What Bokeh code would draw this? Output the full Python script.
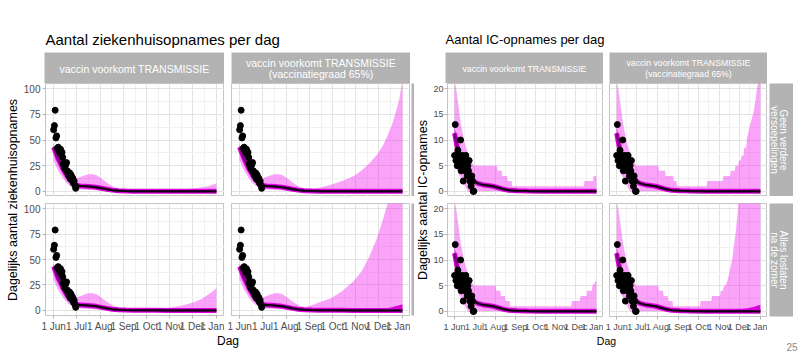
from math import pi
import pandas as pd
from bokeh.plotting import figure
from bokeh.models import Range1d, FixedTicker, Label, Spacer
from bokeh.layouts import row, column
from bokeh.embed import file_html
from bokeh.resources import INLINE

FONT = "Liberation Sans"
PINK = "#ee00ee"
MAGENTA = "#dd00dd"
PURPLE = "#800080"
STRIP_GREY = "#b3b3b3"

# ---------------- texts / ticks ----------------
START = "2021-06-01"
MONTH_TICKS = ["2021-06-01", "2021-07-01", "2021-08-01", "2021-09-01",
               "2021-10-01", "2021-11-01", "2021-12-01", "2022-01-01"]
MONTH_LABELS = ["1 Jun", "1 Jul", "1 Aug", "1 Sep", "1 Oct", "1 Nov", "1 Dec", "1 Jan"]
TITLES = ["Aantal ziekenhuisopnames per dag", "Aantal IC-opnames per dag"]
YLABELS = ["Dagelijks aantal ziekenhuisopnames", "Dagelijks aantal IC-opnames"]
XLABEL = "Dag"
COL_LABELS = [["vaccin voorkomt TRANSMISSIE"],
              ["vaccin voorkomt TRANSMISSIE", "(vaccinatiegraad 65%)"]]
ROW_LABELS = [["Geen verdere", "versoepelingen"], ["Alles loslaten", "na de zomer"]]
PAGE_NO = "25"
H_YTICKS = [0, 25, 50, 75, 100]
IC_YTICKS = [0, 5, 10, 15, 20]

# ---------------- observed data (daily, from 1 June) ----------------
HOSP_OBS = [60, 64, 79, 52, 54, 42, 43, 40, 38, 41, 36, 38, 33, 28, 25,
            22, 26, 28, 20, 17, 15, 18, 12, 16, 11, 13, 8, 10, 6, 3]
IC_OBS = [7, 13, 6, 7, 5, 8, 6, 7, 5, 10, 4, 6, 7, 2, 6,
          5, 4, 7, 6, 3, 5, 4, 6, 2, 3, 1, 3, 2, 0, 0]

# ---------------- hospital model (day offsets from 1 June) ----------------
H_DAY = [0, 3, 6, 9, 12, 15, 18, 21, 24, 27, 31, 35, 42, 49, 56, 63, 70, 77, 85, 95,
         105, 120, 135, 150, 160, 170, 180, 188, 195, 200, 205, 210, 214]
H_MED = [43, 37, 31.5, 27, 22, 18, 14.5, 11.5, 9, 7.5, 5.8, 5.2, 5, 4.6, 4, 3, 2, 1.2, 0.7, 0.4,
         0.2, 0.1, 0.05, 0, 0, 0, 0, 0, 0, 0, 0, 0, 0]
H_IN_LO = [39, 33, 27.5, 23, 18.5, 15, 12, 9.5, 7.3, 6, 4.6, 4.1, 3.9, 3.5, 3, 2.2, 1.4, 0.8, 0.4, 0.2,
           0.1, 0, 0, 0, 0, 0, 0, 0, 0, 0, 0, 0, 0]
H_IN_HI = [45, 41, 35.5, 31, 25.5, 21, 17, 13.5, 10.8, 9, 7, 6.3, 6.1, 5.7, 5, 3.8, 2.6, 1.7, 1, 0.6,
           0.4, 0.3, 0.2, 0.2, 0.2, 0.2, 0.2, 0.2, 0.2, 0.2, 0.2, 0.2, 0.2]
H_IN_HI_LATE = [45, 41, 35.5, 31, 25.5, 21, 17, 13.5, 10.8, 9, 7, 6.3, 6.1, 5.7, 5, 3.8, 2.6, 1.7, 1, 0.6,
                0.4, 0.3, 0.2, 0.3, 0.4, 0.6, 1, 1.6, 2.4, 3.2, 4.1, 5, 6]
H_OUT_LO = [30, 25, 20, 16.5, 13, 10, 7.5, 5.5, 4, 3, 2.2, 1.8, 1.6, 1.4, 1.1, 0.7, 0.4, 0.2, 0, 0,
            0, 0, 0, 0, 0, 0, 0, 0, 0, 0, 0, 0, 0]
H_OUT_HI_EARLY = [46, 41, 37, 33, 29.5, 26, 22.5, 19, 16.5, 14.5, 13, 14, 16, 17, 16, 12.5, 8.5, 5]
H_OUT_HI_GEEN = [2.8, 1.8, 1.4, 1.2, 1.2, 1.5, 1.8, 2.1, 2.6, 3.2, 3.9, 4.6, 5.5, 6.6, 8]
H_OUT_HI_ALLES = [2.8, 1.8, 1.5, 1.4, 1.7, 2.6, 3.6, 5, 7, 9, 11.5, 14, 16.5, 19, 22]
H_OUT_HI_GEEN65 = [3, 2.5, 3.5, 6.5, 10, 15, 20, 27, 35, 44, 55, 64, 76, 90, 108]
H_OUT_HI_ALLES65 = [3.2, 5, 8, 12, 19, 29, 38, 52, 70, 88, 106, 125, 145, 165, 185]

# ---------------- IC model ----------------
IC_DAY = [0, 3, 6, 9, 12, 15, 18, 22, 26, 30, 35, 42, 50, 58, 66, 74, 82, 95, 110, 130,
          150, 170, 185, 195, 205, 214]
IC_MED = [11.3, 9.2, 7.6, 6.4, 5.4, 4.5, 3.7, 2.9, 2.3, 1.9, 1.55, 1.3, 1.15, 1.0, 0.7, 0.4, 0.2, 0.1, 0.05, 0,
          0, 0, 0, 0, 0, 0]
IC_IN_LO = [9.9, 8.0, 6.6, 5.5, 4.6, 3.8, 3.1, 2.4, 1.9, 1.55, 1.25, 1.05, 0.9, 0.8, 0.5, 0.25, 0.1, 0.03, 0, 0,
            0, 0, 0, 0, 0, 0]
IC_IN_HI = [12.5, 10.4, 8.7, 7.3, 6.2, 5.2, 4.3, 3.4, 2.7, 2.25, 1.85, 1.55, 1.4, 1.2, 0.9, 0.6, 0.35, 0.22, 0.15, 0.12,
            0.12, 0.12, 0.12, 0.12, 0.12, 0.12]
IC_IN_HI_LATE = [12.5, 10.4, 8.7, 7.3, 6.2, 5.2, 4.3, 3.4, 2.7, 2.25, 1.85, 1.55, 1.4, 1.2, 0.9, 0.6, 0.35, 0.22, 0.15, 0.12,
                 0.12, 0.2, 0.4, 0.6, 0.9, 1.3]
IC_OUT_LO_DAY = [0, 4, 8, 12, 16, 20, 214]
IC_OUT_LO = [5, 4, 3, 2, 1, 0, 0]
IC_OUT_HI_EARLY_DAY = [0, 3, 6, 9, 12, 15, 18, 21, 24, 27, 30]
IC_OUT_HI_EARLY = [21.5, 19.5, 16.5, 13.5, 11.5, 9.5, 8.3, 7.2, 6.2, 5.4, 5]
IC_GEEN_DAY = [64, 65, 71, 72, 79, 80, 86, 87, 195, 196, 209, 210, 214]
IC_GEEN = [5, 4, 4, 3, 3, 2, 2, 1, 1, 2, 2, 3, 3]
IC_ALLES_DAY = [62, 63, 69, 70, 76, 77, 83, 84, 176, 177, 189, 190, 199, 200, 207, 208, 214]
IC_ALLES = [5, 4, 4, 3, 3, 2, 2, 1, 1, 2, 2, 3, 3, 4, 4, 5, 6]
IC_GEEN65_DAY = [62, 63, 72, 73, 84, 85, 89, 90, 134, 135, 158, 159, 169, 170, 176, 177, 181, 182, 185, 186,
                 189, 190, 193, 194, 197, 200, 204, 207, 209, 214]
IC_GEEN65 = [5, 4, 4, 3, 3, 2, 2, 1, 1, 2, 2, 3, 3, 4, 4, 5, 5, 6, 6, 7,
             7, 8.5, 8.5, 10.3, 12, 13.5, 15.5, 18, 20, 23]
IC_ALLES65_DAY = [62, 63, 69, 70, 76, 77, 83, 84, 124, 125, 141, 142, 154, 155, 158, 160, 162, 165, 167, 170,
                  172, 175, 177, 180, 182, 214]
IC_ALLES65 = [5, 4, 4, 3, 3, 2, 2, 1, 1, 2, 2, 3, 3, 4, 4, 5, 5, 6, 7, 9,
              10, 13, 15, 19, 22, 25]

# ---------------- derived scales ----------------
def day_of(s):
    return (pd.Timestamp(s) - pd.Timestamp(START)).days

MAJOR_X = [day_of(s) for s in MONTH_TICKS]
MINOR_X = [(a + b) / 2 for a, b in zip(MAJOR_X[:-1], MAJOR_X[1:])]
SPAN = MAJOR_X[-1] - MAJOR_X[0]
X0, X1 = MAJOR_X[0] - 0.05 * SPAN, MAJOR_X[-1] + 0.05 * SPAN
OBS_DAY = list(range(len(HOSP_OBS)))


def mids(t):
    return [(a + b) / 2 for a, b in zip(t[:-1], t[1:])]


def blank(w, h, xr, yr, bg="white", mbl=0, mbt=0, mbb=0):
    p = figure(width=w, height=h, x_range=Range1d(*xr), y_range=Range1d(*yr),
               x_axis_location=None, y_axis_location=None, toolbar_location=None,
               output_backend="svg", title=None,
               min_border_left=mbl, min_border_right=0, min_border_top=mbt, min_border_bottom=mbb,
               background_fill_color=bg, border_fill_color="white")
    p.outline_line_color = None
    p.grid.visible = False
    return p


def lab(p, x, y, text, size, color="black", align="center", baseline="middle", angle=0.0):
    p.add_layout(Label(x=x, y=y, text=text, text_font=FONT, text_font_size=size,
                       text_color=color, text_align=align, text_baseline=baseline, angle=angle))


def make_panel(group, r, c, frame_w, mbl):
    bottom = r == 1
    left = c == 0
    mbt = 7 if bottom else 0
    mbb = 18 if bottom else 0
    yr = (-5, 105) if group == "h" else (-1, 21)
    yt = H_YTICKS if group == "h" else IC_YTICKS
    tick_font = "10px" if group == "h" else "9px"
    p = figure(width=mbl + frame_w, height=mbt + 113 + mbb,
               x_range=Range1d(X0, X1), y_range=Range1d(*yr),
               x_axis_location="below" if bottom else None,
               y_axis_location="left" if left else None,
               toolbar_location=None, output_backend="svg", title=None,
               min_border_left=mbl, min_border_right=0, min_border_top=mbt, min_border_bottom=mbb,
               background_fill_color="white", border_fill_color="white")
    p.outline_line_color = "#c4c4c4"
    p.outline_line_width = 1
    p.xgrid.ticker = FixedTicker(ticks=MAJOR_X, minor_ticks=MINOR_X)
    p.ygrid.ticker = FixedTicker(ticks=yt, minor_ticks=mids(yt))
    p.grid.grid_line_color = "#e3e3e3"
    p.grid.grid_line_width = 1
    p.grid.minor_grid_line_color = "#f1f1f1"
    p.grid.minor_grid_line_width = 1
    for ax in p.axis:
        ax.axis_line_color = None
        ax.major_tick_line_color = "#b3b3b3"
        ax.major_tick_out = 3
        ax.major_tick_in = 0
        ax.minor_tick_line_color = None
        ax.major_label_text_font = FONT
        ax.major_label_text_font_size = tick_font
        ax.major_label_text_color = "#4d4d4d"
        ax.major_label_standoff = 2
    if bottom:
        ax = p.xaxis[0]
        ax.ticker = FixedTicker(ticks=MAJOR_X)
        ax.major_label_overrides = {d: t for d, t in zip(MAJOR_X, MONTH_LABELS)}
    if left:
        ax = p.yaxis[0]
        ax.ticker = FixedTicker(ticks=yt)
        ax.major_label_standoff = 2 if group == "h" else 1

    late = (r == 1 and c == 1)
    if group == "h":
        tail = {(0, 0): H_OUT_HI_GEEN, (1, 0): H_OUT_HI_ALLES,
                (0, 1): H_OUT_HI_GEEN65, (1, 1): H_OUT_HI_ALLES65}[(r, c)]
        p.varea(x=H_DAY, y1=H_OUT_LO, y2=H_OUT_HI_EARLY + tail, fill_color=PINK, fill_alpha=0.36)
        p.varea(x=H_DAY, y1=H_IN_LO, y2=H_IN_HI_LATE if late else H_IN_HI, fill_color=MAGENTA)
        days, med, obs = H_DAY, H_MED, HOSP_OBS
    else:
        tail_d, tail_v = {(0, 0): (IC_GEEN_DAY, IC_GEEN), (1, 0): (IC_ALLES_DAY, IC_ALLES),
                          (0, 1): (IC_GEEN65_DAY, IC_GEEN65), (1, 1): (IC_ALLES65_DAY, IC_ALLES65)}[(r, c)]
        xs = IC_OUT_HI_EARLY_DAY + tail_d + IC_OUT_LO_DAY[::-1]
        ys = IC_OUT_HI_EARLY + tail_v + IC_OUT_LO[::-1]
        p.patch(xs, ys, fill_color=PINK, fill_alpha=0.36, line_color=None)
        p.varea(x=IC_DAY, y1=IC_IN_LO, y2=IC_IN_HI_LATE if late else IC_IN_HI, fill_color=MAGENTA)
        days, med, obs = IC_DAY, IC_MED, IC_OBS
    p.line(days, med, line_width=5, color=MAGENTA)
    p.line(days, med, line_width=2.6, color=PURPLE)
    p.line(days[3:], med[3:], line_width=2, color="#140014")
    p.scatter(OBS_DAY, obs, size=6, color="black")
    return p


def col_strip(lines, frame_w, mbl, size):
    p = blank(mbl + frame_w, 31, (0, frame_w), (0, 31), bg=STRIP_GREY, mbl=mbl)
    ys = [14.7] if len(lines) == 1 else [20.3, 9.7]
    for t, y in zip(lines, ys):
        lab(p, frame_w / 2, y, t, size, color="white")
    return p


def row_strip(lines, r):
    mbt = 7 if r == 1 else 0
    mbb = 18 if r == 1 else 0
    p = blank(26, mbt + 113 + mbb, (0, 24), (0, 113), bg=STRIP_GREY, mbl=2, mbt=mbt, mbb=mbb)
    for t, x in zip(lines, [14, 5]):
        lab(p, x, 56.5, t, "10px", color="white", angle=-pi / 2)
    return p


def hidden_strip(r):
    mbt = 7 if r == 1 else 0
    mbb = 18 if r == 1 else 0
    return blank(4, mbt + 113 + mbb, (0, 1), (0, 1), bg=STRIP_GREY, mbl=1, mbt=mbt, mbb=mbb)


def title_fig(text, w, x, size):
    p = blank(w, 52, (0, w), (0, 52))
    lab(p, x, 13, text, size, align="left", baseline="middle")
    return p


def ylab_fig(text, w, x):
    p = blank(w, 282, (0, w), (0, 282))
    lab(p, x, 134.5, text, "12.5px", angle=pi / 2)
    return p


def xlab_fig(w, x, size, page=False):
    p = blank(w, 20, (0, w), (0, 20))
    lab(p, x, 14, XLABEL, size)
    if page:
        lab(p, w - 3, 8, PAGE_NO, "10px", color="#8a8a8a", align="right", baseline="middle")
    return p


left_group = column(
    title_fig(TITLES[0], 414, 45, "15px"),
    row(
        ylab_fig(YLABELS[0], 20, 12.5),
        column(
            row(col_strip(COL_LABELS[0], 180, 24, "10.5px"), col_strip(COL_LABELS[1], 179, 7, "10.5px"),
                Spacer(width=4, height=31)),
            row(make_panel("h", 0, 0, 180, 24), make_panel("h", 0, 1, 179, 7), hidden_strip(0)),
            row(make_panel("h", 1, 0, 180, 24), make_panel("h", 1, 1, 179, 7), hidden_strip(1)),
        ),
    ),
    xlab_fig(414, 227.5, "12px"),
)

right_group = column(
    title_fig(TITLES[1], 379, 31, "13px"),
    row(
        ylab_fig(YLABELS[1], 16, 8),
        column(
            row(col_strip(COL_LABELS[0], 158, 15, "8.7px"), col_strip(COL_LABELS[1], 158, 6, "8.7px"),
                Spacer(width=26, height=31)),
            row(make_panel("ic", 0, 0, 158, 15), make_panel("ic", 0, 1, 158, 6), row_strip(ROW_LABELS[0], 0)),
            row(make_panel("ic", 1, 0, 158, 15), make_panel("ic", 1, 1, 158, 6), row_strip(ROW_LABELS[1], 1)),
        ),
    ),
    xlab_fig(386, 192, "10.5px", page=True),
)

root = row(left_group, right_group)
open("out.html", "w").write(file_html(root, INLINE, title="Opnames per dag"))
